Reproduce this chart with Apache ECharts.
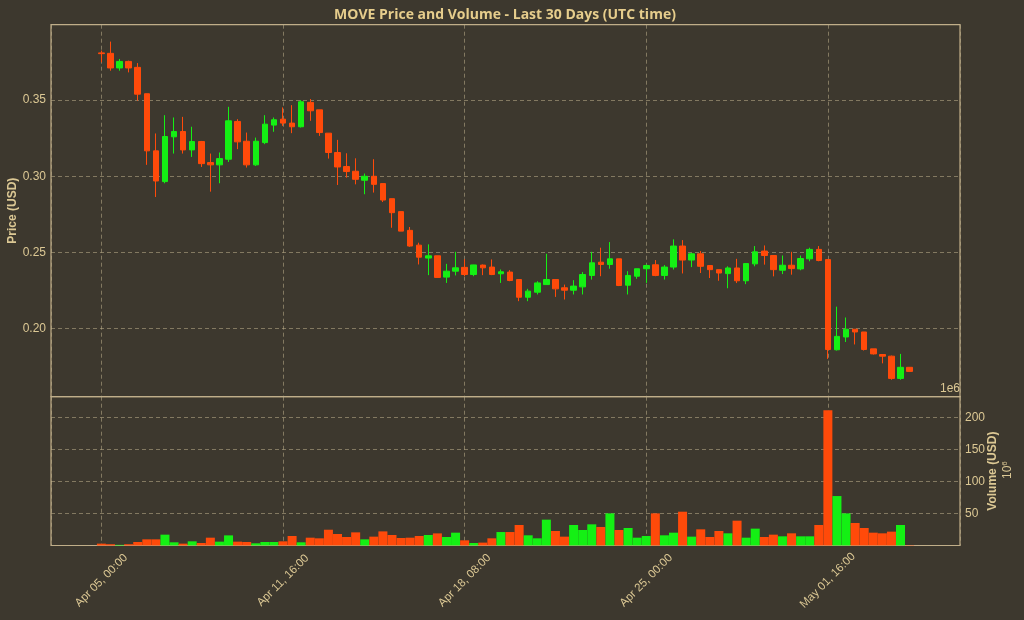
<!DOCTYPE html>
<html>
<head>
<meta charset="utf-8">
<script src="https://cdn.jsdelivr.net/npm/echarts@6/dist/echarts.min.js"></script>
<style>
html,body{margin:0;padding:0;background:#3d382e;}
#chart{width:1024px;height:620px;}
</style>
</head>
<body>
<div id="chart"></div>
<script>
// 8-hour candles, MOVE price (USD)
const openPrices = [0.3810,0.3807,0.3711,0.3754,0.3715,0.3542,0.3167,0.2965,0.3259,0.3294,
  0.3173,0.3228,0.3090,0.3075,0.3112,0.3360,0.3230,0.3075,0.3221,0.3336,
  0.3375,0.3349,0.3325,0.3485,0.3436,0.3283,0.3156,0.3064,0.3033,0.2974,
  0.3000,0.2952,0.2853,0.2768,0.2645,0.2548,0.2463,0.2478,0.2338,0.2377,
  0.2402,0.2355,0.2417,0.2404,0.2360,0.2371,0.2322,0.2206,0.2239,0.2289,
  0.2322,0.2268,0.2252,0.2274,0.2349,0.2436,0.2421,0.2458,0.2285,0.2344,
  0.2393,0.2419,0.2349,0.2404,0.2542,0.2450,0.2491,0.2414,0.2387,0.2361,
  0.2398,0.2314,0.2425,0.2509,0.2480,0.2383,0.2416,0.2392,0.2458,0.2520,
  0.2453,0.1861,0.1945,0.1996,0.1978,0.1867,0.1830,0.1819,0.1673,0.1746];
const highPrices = [0.3825,0.3884,0.3770,0.3759,0.3743,0.3542,0.3281,0.3401,0.3386,0.3390,
  0.3325,0.3232,0.3149,0.3156,0.3456,0.3375,0.3287,0.3254,0.3401,0.3386,
  0.3452,0.3467,0.3500,0.3507,0.3436,0.3283,0.3239,0.3151,0.3118,0.3018,
  0.3112,0.2952,0.2853,0.2768,0.2667,0.2564,0.2553,0.2478,0.2425,0.2504,
  0.2456,0.2419,0.2421,0.2454,0.2388,0.2384,0.2322,0.2261,0.2311,0.2491,
  0.2322,0.2289,0.2318,0.2371,0.2504,0.2531,0.2568,0.2458,0.2377,0.2393,
  0.2421,0.2450,0.2417,0.2586,0.2581,0.2498,0.2509,0.2414,0.2387,0.2409,
  0.2458,0.2427,0.2542,0.2546,0.2480,0.2480,0.2504,0.2480,0.2531,0.2542,
  0.2453,0.2144,0.2073,0.1996,0.1978,0.1867,0.1830,0.1823,0.1834,0.1746];
const lowPrices = [0.3748,0.3693,0.3693,0.3682,0.3496,0.3075,0.2864,0.2954,0.3149,0.3149,
  0.3127,0.3061,0.2899,0.2954,0.3094,0.3178,0.3057,0.3068,0.3211,0.3292,
  0.3331,0.3283,0.3320,0.3364,0.3265,0.3116,0.2943,0.2991,0.2947,0.2882,
  0.2893,0.2831,0.2662,0.2640,0.2537,0.2421,0.2351,0.2335,0.2300,0.2349,
  0.2344,0.2344,0.2351,0.2351,0.2300,0.2311,0.2180,0.2180,0.2224,0.2289,
  0.2208,0.2191,0.2224,0.2224,0.2322,0.2344,0.2393,0.2279,0.2224,0.2327,
  0.2300,0.2344,0.2322,0.2388,0.2362,0.2404,0.2365,0.2332,0.2314,0.2265,
  0.2299,0.2292,0.2409,0.2420,0.2343,0.2358,0.2354,0.2383,0.2442,0.2442,
  0.1801,0.1856,0.1912,0.1896,0.1856,0.1830,0.1772,0.1664,0.1664,0.1719];
const closePrices = [0.3805,0.3711,0.3754,0.3711,0.3539,0.3167,0.2969,0.3261,0.3294,0.3173,
  0.3228,0.3083,0.3075,0.3116,0.3364,0.3226,0.3075,0.3230,0.3342,0.3371,
  0.3349,0.3325,0.3489,0.3430,0.3287,0.3156,0.3061,0.3031,0.2980,0.3000,
  0.2947,0.2844,0.2761,0.2640,0.2542,0.2469,0.2478,0.2336,0.2377,0.2399,
  0.2355,0.2418,0.2399,0.2355,0.2373,0.2316,0.2206,0.2246,0.2300,0.2322,
  0.2261,0.2252,0.2279,0.2355,0.2432,0.2421,0.2458,0.2283,0.2349,0.2393,
  0.2414,0.2349,0.2404,0.2542,0.2450,0.2491,0.2409,0.2387,0.2365,0.2398,
  0.2314,0.2427,0.2504,0.2480,0.2387,0.2416,0.2394,0.2460,0.2520,0.2447,
  0.1863,0.1949,0.1996,0.1978,0.1863,0.1834,0.1819,0.1673,0.1746,0.1719];
// volume in millions of USD
const volumes = [2.9,2,1,2,5.5,9.6,9.6,16.9,5,2.9,
  6.5,3.9,12.2,6,15.8,6,5.5,3.4,5.5,5.5,
  6.5,14.8,5,12.2,11.2,24.6,17.9,13.3,20.5,9.6,
  13.8,22,16.4,11.7,12.2,14.8,16.4,18.9,13.3,20,
  8.1,3.9,4.5,11.2,21,21,32,15.9,11.2,40.3,
  22.6,13.8,32,24.2,33,28.9,50.1,24.2,27.3,12.2,
  14.8,50.1,15.9,20,52.7,13.8,25.2,13.3,22.6,19,
  38.7,12.2,26.3,13.3,16.9,14.3,19,14.3,14.3,32,
  211,77.1,50.1,35.1,27.3,20,19,21.6,32,0.5];
const startTime = Date.UTC(2025, 3, 5, 0, 0);
const stepHours = 8;
const monthNames = ['Jan','Feb','Mar','Apr','May','Jun','Jul','Aug','Sep','Oct','Nov','Dec'];
const categories = openPrices.map((_, i) => {
  const d = new Date(startTime + i * stepHours * 3600 * 1000);
  const p = n => String(n).padStart(2, '0');
  return monthNames[d.getUTCMonth()] + ' ' + p(d.getUTCDate()) + ', ' + p(d.getUTCHours()) + ':' + p(d.getUTCMinutes());
});
const priceTicks = [0.20, 0.25, 0.30, 0.35];
const volumeTicks = [50, 100, 150, 200];

const UP = '#14f014', DOWN = '#ff4a0a';
const TXT = '#dcc894', SPINE = '#c2ae88', GRID = 'rgba(190,175,140,0.55)';
const FONT = '"Liberation Sans", Arial, sans-serif';

const candleData = categories.map((c, i) => [i, openPrices[i], closePrices[i], lowPrices[i], highPrices[i]]);
const volData = categories.map((c, i) => ({
  value: [i, volumes[i]],
  itemStyle: {color: closePrices[i] >= openPrices[i] ? UP : DOWN}
}));

const xMin = -5.55, xMax = 94.55;
const splitLineStyle = {show: true, lineStyle: {color: GRID, type: [4, 3], width: 1}};

const chart = echarts.init(document.getElementById('chart'), null, {renderer: 'canvas'});
chart.setOption({
  backgroundColor: '#3d382e',
  animation: false,
  title: {
    text: 'MOVE Price and Volume - Last 30 Days (UTC time)',
    left: 500, top: 3, textAlign: 'center',
    textStyle: {color: '#e6cd8c', fontSize: 14, fontWeight: 'bold', fontFamily: '"Open Sans", sans-serif'}
  },
  grid: [
    {left: 51, right: 64, top: 24.7, height: 372, show: true, borderColor: SPINE, borderWidth: 1.2,
      backgroundColor: 'transparent', containLabel: false, outerBoundsMode: 'none'},
    {left: 51, right: 64, top: 396.7, height: 148.8, show: true, borderColor: SPINE, borderWidth: 1.2,
      backgroundColor: 'transparent', containLabel: false, outerBoundsMode: 'none'}
  ],
  xAxis: [
    {type: 'value', gridIndex: 0, min: xMin, max: xMax, splitNumber: 5, minInterval: 20, maxInterval: 20,
      axisLine: {show: false}, axisTick: {show: false}, axisLabel: {show: false}, splitLine: splitLineStyle},
    {type: 'value', gridIndex: 1, min: xMin, max: xMax, splitNumber: 5, minInterval: 20, maxInterval: 20,
      axisLine: {show: false}, axisTick: {show: false}, splitLine: splitLineStyle,
      axisLabel: {
        show: true, rotate: 45, align: 'center', verticalAlign: 'middle', margin: 35,
        color: TXT, fontSize: 11.5, fontFamily: FONT, showMinLabel: false, showMaxLabel: false,
        formatter: v => (Number.isInteger(v) && categories[v]) ? categories[v] : ''
      }}
  ],
  yAxis: [
    {type: 'value', gridIndex: 0, position: 'left', min: 0.1553, max: 0.3995, splitNumber: 5, minInterval: 0.05, maxInterval: 0.05,
      axisLine: {show: false}, axisTick: {show: false}, splitLine: splitLineStyle,
      axisLabel: {color: TXT, fontSize: 12, fontFamily: FONT, margin: 5, showMinLabel: false, showMaxLabel: false,
        formatter: v => priceTicks.some(t => Math.abs(t - v) < 1e-9) ? v.toFixed(2) : ''},
      name: 'Price (USD)', nameLocation: 'middle', nameRotate: 90, nameGap: 32, nameMoveOverlap: false,
      nameTextStyle: {color: TXT, fontSize: 12, fontWeight: 'bold', fontFamily: FONT}},
    {type: 'value', gridIndex: 1, position: 'right', min: 0, max: 232, interval: 50,
      axisLine: {show: false}, axisTick: {show: false}, splitLine: splitLineStyle,
      axisLabel: {color: TXT, fontSize: 12, fontFamily: FONT, margin: 5, showMinLabel: false, showMaxLabel: false,
        formatter: v => volumeTicks.indexOf(v) >= 0 ? String(v) : ''},
      name: 'Volume (USD)', nameLocation: 'middle', nameRotate: 90, nameGap: 27, nameMoveOverlap: false,
      nameTextStyle: {color: TXT, fontSize: 12, fontWeight: 'bold', fontFamily: FONT}}
  ],
  graphic: [
    {type: 'text', right: 64, top: 383, style: {text: '1e6', fill: TXT, fontSize: 12, fontFamily: FONT}},
    {type: 'text', x: 1001, y: 479, rotation: Math.PI / 2,
      style: {text: '10{s|6}', fill: TXT, fontSize: 12, fontFamily: FONT,
        rich: {s: {fontSize: 8, verticalAlign: 'top', fill: TXT, fontFamily: FONT, padding: [0, 0, 6, 0]}}}}
  ],
  series: [
    {type: 'candlestick', xAxisIndex: 0, yAxisIndex: 0, data: candleData, barWidth: 6,
      encode: {x: 0, y: [1, 2, 3, 4]},
      itemStyle: {color: UP, color0: DOWN, borderColor: UP, borderColor0: DOWN, borderWidth: 1}},
    {type: 'bar', xAxisIndex: 1, yAxisIndex: 1, data: volData, barWidth: 9}
  ]
});
</script>
</body>
</html>
